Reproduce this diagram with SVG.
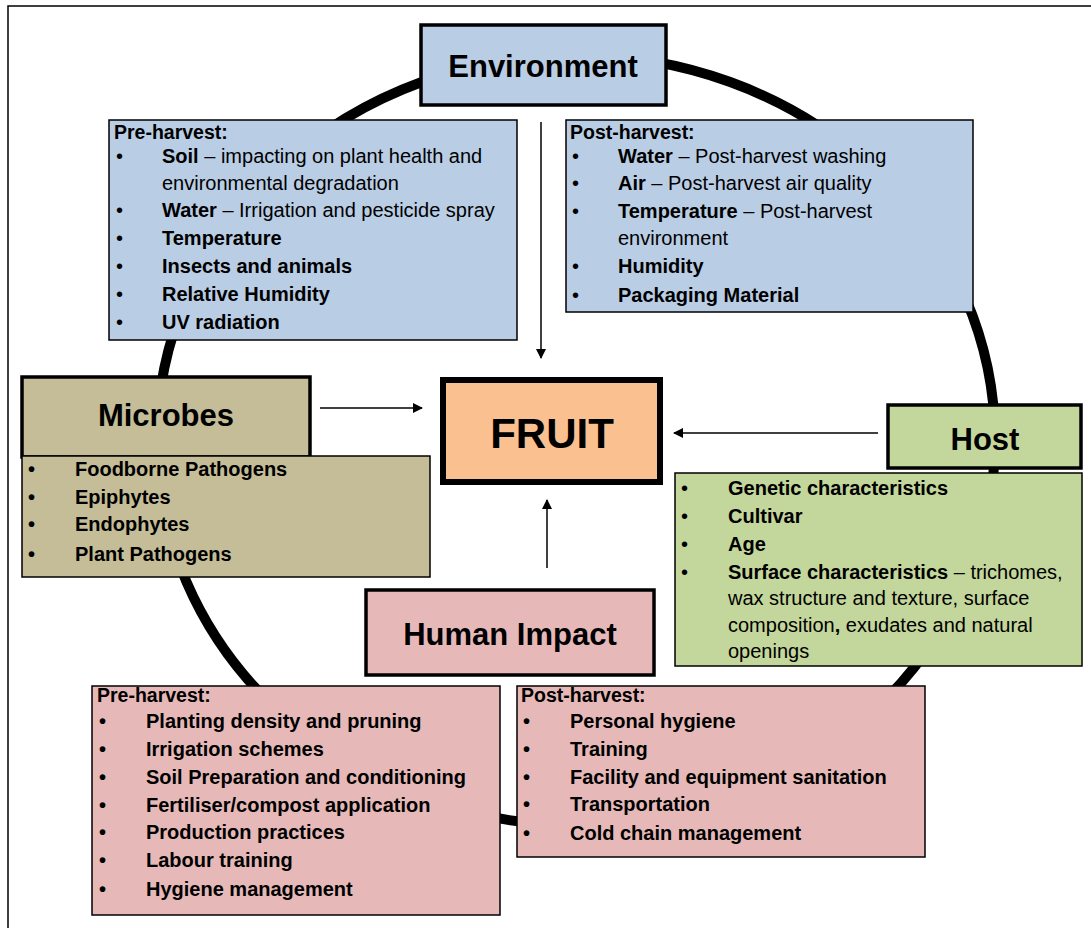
<svg xmlns="http://www.w3.org/2000/svg" width="1091" height="928" viewBox="0 0 1091 928">
<defs>
<marker id="ah" markerWidth="10" markerHeight="10" refX="9" refY="5" orient="auto" markerUnits="userSpaceOnUse">
<path d="M0,0 L10,5 L0,10 Z" fill="#000"/>
</marker>
<style>
text{font-family:"Liberation Sans",Arial,sans-serif;fill:#000}
.hd{font-size:31px;font-weight:bold;text-anchor:middle}
.li{font-size:20px}
.b{font-weight:bold}
.sub{font-size:19.5px;font-weight:bold}
.thick{stroke:#000;stroke-width:3.5}
.thin{stroke:#000;stroke-width:1.5}
.env{fill:#b9cde5}
.mic{fill:#c4bd97}
.host{fill:#c3d69b}
.hum{fill:#e6b9b8}
.fruit{fill:#fac090}
.conn{stroke:#000;stroke-width:1.5;fill:none}
</style>
</defs>
<rect x="0" y="0" width="1091" height="928" fill="#fff"/>
<path d="M8,928 V6 H1091" fill="none" stroke="#000" stroke-width="1.5"/>
<ellipse cx="576" cy="440" rx="419" ry="385" fill="none" stroke="#000" stroke-width="10"/>

<g id="connectors">
<line class="conn" x1="541" y1="122" x2="541" y2="358" marker-end="url(#ah)"/>
<line class="conn" x1="320" y1="408" x2="422" y2="408" marker-end="url(#ah)"/>
<line class="conn" x1="878" y1="433" x2="674" y2="433" marker-end="url(#ah)"/>
<line class="conn" x1="547" y1="568" x2="547" y2="500" marker-end="url(#ah)"/>
</g>

<g id="environment">
<rect class="env thick" x="421" y="25" width="245" height="80"/>
<text class="hd" x="543" y="77">Environment</text>
</g>

<g id="env-pre">
<rect class="env thin" x="109" y="120" width="408" height="220"/>
<text class="sub" x="114" y="139">Pre-harvest:</text>
<g class="li">
<text x="116" y="163">•</text><text x="162" y="163"><tspan class="b">Soil</tspan> – impacting on plant health and</text>
<text x="162" y="190">environmental degradation</text>
<text x="116" y="217">•</text><text x="162" y="217"><tspan class="b">Water</tspan> – Irrigation and pesticide spray</text>
<text x="116" y="245">•</text><text x="162" y="245" class="b">Temperature</text>
<text x="116" y="273">•</text><text x="162" y="273" class="b">Insects and animals</text>
<text x="116" y="301">•</text><text x="162" y="301" class="b">Relative Humidity</text>
<text x="116" y="329">•</text><text x="162" y="329" class="b">UV radiation</text>
</g>
</g>

<g id="env-post">
<rect class="env thin" x="566" y="120" width="407" height="192"/>
<text class="sub" x="570" y="139">Post-harvest:</text>
<g class="li">
<text x="572" y="163">•</text><text x="618" y="163"><tspan class="b">Water</tspan> – Post-harvest washing</text>
<text x="572" y="190">•</text><text x="618" y="190"><tspan class="b">Air</tspan> – Post-harvest air quality</text>
<text x="572" y="218">•</text><text x="618" y="218"><tspan class="b">Temperature</tspan> – Post-harvest</text>
<text x="618" y="245">environment</text>
<text x="572" y="273">•</text><text x="618" y="273" class="b">Humidity</text>
<text x="572" y="302">•</text><text x="618" y="302" class="b">Packaging Material</text>
</g>
</g>

<g id="microbes">
<rect class="mic thick" x="22" y="377" width="288" height="80"/>
<text class="hd" x="166" y="426">Microbes</text>
</g>

<g id="microbes-list">
<rect class="mic thin" x="22" y="456" width="408" height="121"/>
<g class="li b">
<text x="28" y="476">•</text><text x="75" y="476">Foodborne Pathogens</text>
<text x="28" y="504">•</text><text x="75" y="504">Epiphytes</text>
<text x="28" y="531">•</text><text x="75" y="531">Endophytes</text>
<text x="28" y="561">•</text><text x="75" y="561">Plant Pathogens</text>
</g>
</g>

<g id="fruit">
<rect class="fruit" x="443" y="380" width="217" height="102" stroke="#000" stroke-width="6"/>
<text class="hd" x="552" y="448" style="font-size:42px">FRUIT</text>
</g>

<g id="host">
<rect class="host thick" x="888" y="405" width="193" height="63"/>
<text class="hd" x="985" y="450">Host</text>
</g>

<g id="host-list">
<rect class="host thin" x="675" y="473" width="407" height="193"/>
<g class="li">
<text x="681" y="495">•</text><text x="728" y="495" class="b">Genetic characteristics</text>
<text x="681" y="523">•</text><text x="728" y="523" class="b">Cultivar</text>
<text x="681" y="551">•</text><text x="728" y="551" class="b">Age</text>
<text x="681" y="579">•</text><text x="728" y="579"><tspan class="b">Surface characteristics</tspan> – trichomes,</text>
<text x="728" y="605">wax structure and texture, surface</text>
<text x="728" y="632">composition<tspan class="b">,</tspan> exudates and natural</text>
<text x="728" y="658">openings</text>
</g>
</g>

<g id="human-impact">
<rect class="hum thick" x="366" y="590" width="288" height="85"/>
<text class="hd" x="510" y="645">Human Impact</text>
</g>

<g id="human-pre">
<rect class="hum thin" x="92" y="686" width="408" height="229"/>
<text class="sub" x="97" y="702">Pre-harvest:</text>
<g class="li b">
<text x="99" y="728">•</text><text x="146" y="728">Planting density and pruning</text>
<text x="99" y="756">•</text><text x="146" y="756">Irrigation schemes</text>
<text x="99" y="784">•</text><text x="146" y="784">Soil Preparation and conditioning</text>
<text x="99" y="812">•</text><text x="146" y="812">Fertiliser/compost application</text>
<text x="99" y="839">•</text><text x="146" y="839">Production practices</text>
<text x="99" y="867">•</text><text x="146" y="867">Labour training</text>
<text x="99" y="896">•</text><text x="146" y="896">Hygiene management</text>
</g>
</g>

<g id="human-post">
<rect class="hum thin" x="517" y="686" width="408" height="171"/>
<text class="sub" x="521" y="702">Post-harvest:</text>
<g class="li b">
<text x="523" y="728">•</text><text x="570" y="728">Personal hygiene</text>
<text x="523" y="756">•</text><text x="570" y="756">Training</text>
<text x="523" y="784">•</text><text x="570" y="784">Facility and equipment sanitation</text>
<text x="523" y="811">•</text><text x="570" y="811">Transportation</text>
<text x="523" y="840">•</text><text x="570" y="840">Cold chain management</text>
</g>
</g>
</svg>
